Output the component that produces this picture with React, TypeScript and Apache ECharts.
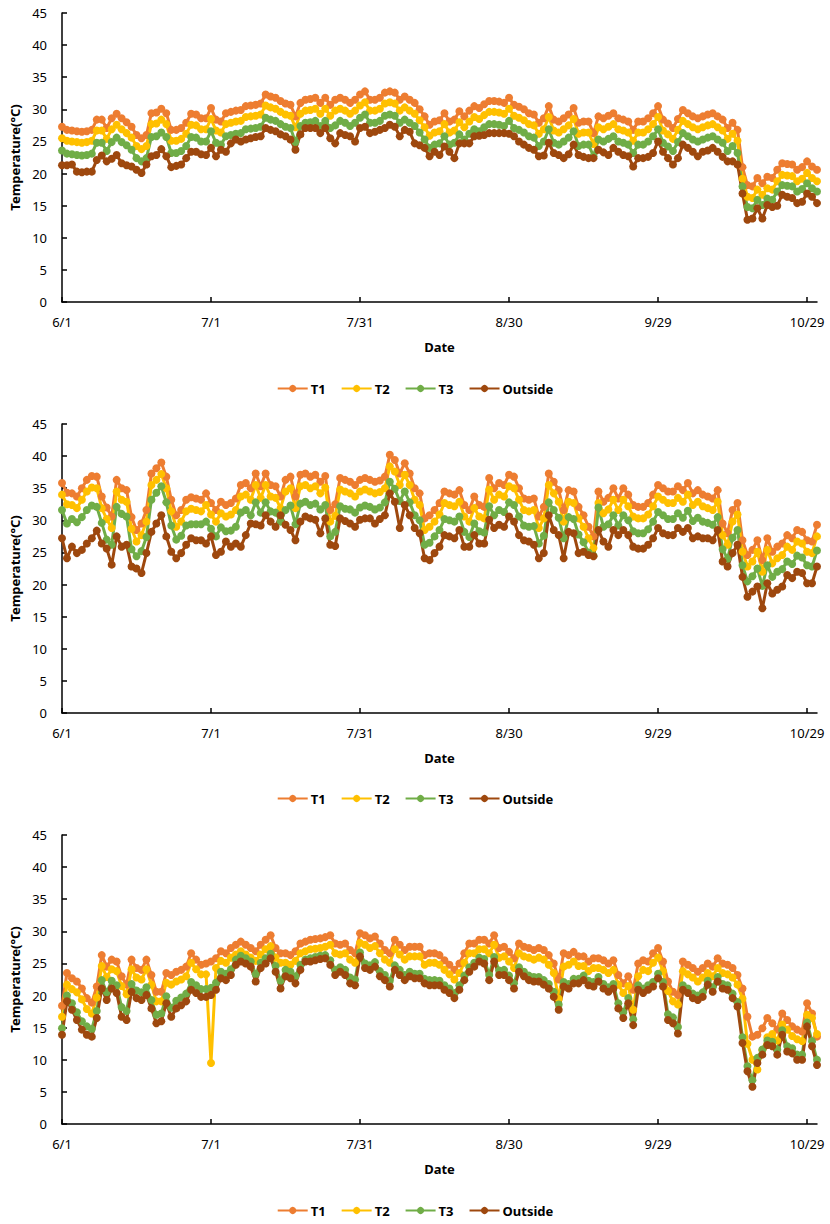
import React, { useEffect, useRef } from 'react';
import * as echarts from 'echarts';

// Categories: daily dates 6/1 .. 10/31
const months: [number, number][] = [[6, 30], [7, 31], [8, 31], [9, 30], [10, 31]];
const dates: string[] = [];
months.forEach(([m, n]) => { for (let d = 1; d <= n; d++) dates.push(`${m}/${d}`); });

const seriesNames = ['T1', 'T2', 'T3', 'Outside'];
const seriesColors = ['#ED7D31', '#FFC000', '#70AD47', '#9E480E'];
const yTicks = { min: 0, max: 45, step: 5 };

// ---------- Panel 1 ----------
const p1T1 = [
  27.3, 26.8, 26.7, 26.6, 26.5, 26.6, 26.8, 28.4, 28.4, 27.1,
  28.6, 29.3, 28.6, 28.0, 27.3, 26.0, 25.5, 26.0, 29.4, 29.5,
  30.1, 29.4, 26.8, 26.8, 27.1, 27.9, 29.3, 29.2, 28.6, 28.6,
  30.2, 28.4, 28.1, 29.4, 29.6, 29.8, 29.9, 30.5, 30.6, 30.7,
  30.9, 32.3, 32.0, 31.8, 31.3, 30.9, 30.7, 28.9, 31.0, 31.5,
  31.6, 31.8, 31.0, 31.8, 30.7, 31.5, 31.8, 31.5, 31.0, 31.5,
  32.3, 32.8, 31.5, 31.5, 31.8, 32.6, 32.8, 32.6, 31.5, 32.0,
  31.5, 31.0, 30.0, 28.9, 27.6, 28.1, 28.3, 29.4, 28.1, 28.4,
  29.7, 28.9, 29.8, 30.5, 30.2, 30.8, 31.3, 31.3, 31.2, 31.0,
  31.8, 30.7, 30.4, 30.0, 29.4, 29.2, 27.9, 28.6, 30.5, 28.4,
  28.1, 28.6, 29.2, 30.2, 27.9, 28.1, 28.1, 26.3, 28.9, 28.6,
  29.0, 29.4, 28.6, 28.4, 28.1, 26.8, 28.1, 28.1, 28.6, 29.4,
  30.5, 28.4, 27.8, 27.1, 28.5, 29.9, 29.4, 28.9, 28.6, 28.9,
  29.2, 29.4, 28.9, 28.4, 27.1, 27.9, 26.8, 21.0, 18.2, 18.0,
  19.3, 18.5, 19.5, 19.3, 20.6, 21.6, 21.5, 21.4, 20.6, 21.0,
  21.9, 21.1, 20.6,
];
const p1T2 = [
  25.5, 25.1, 25.0, 24.9, 24.8, 24.9, 25.1, 26.7, 26.7, 25.4,
  26.9, 27.6, 26.9, 26.3, 25.6, 24.3, 23.8, 24.3, 27.7, 27.8,
  28.4, 27.7, 25.1, 25.1, 25.4, 26.2, 27.6, 27.5, 26.9, 26.9,
  28.5, 26.7, 26.4, 27.7, 27.9, 28.1, 28.2, 28.8, 28.9, 29.0,
  29.2, 30.6, 30.3, 30.1, 29.6, 29.2, 29.0, 27.2, 29.3, 29.8,
  29.9, 30.1, 29.3, 30.1, 29.0, 29.8, 30.1, 29.8, 29.3, 29.8,
  30.6, 31.1, 29.8, 29.8, 30.1, 30.9, 31.1, 30.9, 29.8, 30.3,
  29.8, 29.3, 28.3, 27.2, 25.9, 26.4, 26.6, 27.7, 26.4, 26.7,
  28.0, 27.2, 28.1, 28.8, 28.5, 29.1, 29.6, 29.6, 29.5, 29.3,
  30.1, 29.0, 28.7, 28.3, 27.7, 27.5, 26.2, 26.9, 28.8, 26.7,
  26.4, 26.9, 27.5, 28.5, 26.2, 26.4, 26.4, 24.6, 27.2, 26.9,
  27.3, 27.7, 26.9, 26.7, 26.4, 25.1, 26.4, 26.4, 26.9, 27.7,
  28.8, 26.7, 26.1, 25.4, 26.8, 28.2, 27.7, 27.2, 26.9, 27.2,
  27.5, 27.7, 27.2, 26.7, 25.4, 26.2, 25.1, 19.2, 16.4, 16.2,
  17.5, 16.7, 17.7, 17.5, 18.8, 19.8, 19.7, 19.6, 18.8, 19.2,
  20.1, 19.3, 18.8,
];
const p1T3 = [
  23.6, 23.1, 23.0, 22.9, 22.8, 22.9, 23.1, 24.8, 24.8, 23.5,
  24.9, 25.6, 24.9, 24.4, 23.7, 22.4, 21.9, 22.4, 25.7, 25.8,
  26.4, 25.7, 23.2, 23.2, 23.5, 24.3, 25.7, 25.6, 25.0, 25.0,
  26.6, 24.8, 24.5, 25.8, 26.0, 26.2, 26.3, 26.9, 27.0, 27.1,
  27.3, 28.7, 28.4, 28.2, 27.7, 27.3, 27.1, 24.9, 27.4, 27.9,
  28.0, 28.2, 27.4, 28.2, 27.1, 27.5, 28.2, 27.9, 27.4, 27.9,
  28.7, 29.2, 27.9, 27.9, 28.2, 29.0, 29.2, 29.0, 27.9, 28.4,
  27.9, 27.4, 26.4, 25.3, 24.0, 24.5, 24.7, 25.8, 24.5, 24.8,
  26.1, 25.3, 26.2, 26.9, 26.6, 27.2, 27.7, 27.7, 27.6, 27.4,
  28.2, 27.1, 26.8, 26.4, 25.8, 25.6, 24.3, 25.0, 26.9, 24.8,
  24.5, 25.0, 25.6, 26.6, 24.3, 24.5, 24.5, 22.7, 25.3, 25.0,
  25.4, 25.8, 25.0, 24.8, 24.5, 23.2, 24.5, 24.5, 25.0, 25.8,
  26.9, 24.8, 24.2, 23.5, 24.9, 26.3, 25.8, 25.3, 25.0, 25.3,
  25.6, 25.8, 25.3, 24.8, 23.5, 24.3, 23.2, 18.0, 14.8, 14.6,
  15.9, 15.1, 16.1, 15.9, 17.2, 18.2, 18.1, 18.0, 17.2, 17.6,
  18.5, 17.7, 17.2,
];
const p1Out = [
  21.3, 21.3, 21.4, 20.3, 20.2, 20.3, 20.3, 22.1, 22.8, 21.9,
  22.3, 22.9, 21.6, 21.3, 21.1, 20.6, 20.1, 21.4, 22.7, 22.9,
  23.8, 22.7, 21.0, 21.2, 21.4, 22.4, 23.4, 23.4, 23.0, 22.9,
  24.0, 22.7, 23.7, 23.4, 24.7, 25.3, 25.0, 25.3, 25.5, 25.7,
  25.8, 27.1, 26.8, 26.6, 26.1, 25.8, 25.3, 23.7, 26.1, 27.1,
  27.1, 27.1, 26.3, 27.1, 25.5, 24.7, 26.3, 26.0, 25.8, 25.0,
  27.1, 27.3, 26.3, 26.5, 26.8, 27.1, 27.6, 27.3, 25.8, 26.8,
  26.5, 24.7, 24.4, 24.0, 22.7, 23.4, 22.9, 24.2, 23.4, 22.4,
  24.7, 24.7, 24.7, 25.8, 25.9, 26.0, 26.3, 26.3, 26.3, 26.3,
  26.2, 25.8, 25.0, 24.5, 24.0, 23.7, 22.7, 22.8, 24.8, 23.2,
  22.9, 22.4, 23.0, 24.5, 22.9, 22.6, 22.4, 22.4, 23.7, 23.3,
  22.9, 24.0, 23.4, 22.9, 22.7, 21.1, 22.4, 22.4, 22.6, 23.2,
  25.0, 23.4, 22.4, 21.4, 22.4, 24.5, 24.0, 23.4, 22.7, 23.4,
  23.6, 24.0, 23.4, 22.6, 21.9, 21.9, 21.4, 16.9, 12.8, 13.0,
  14.6, 13.0, 15.1, 14.8, 15.0, 16.7, 16.4, 16.2, 15.4, 15.6,
  16.9, 16.4, 15.4,
];

// ---------- Panel 2 ----------
const p2T1 = [
  35.8, 34.3, 34.2, 33.7, 35.0, 36.3, 36.9, 36.8, 33.7, 32.0,
  30.6, 36.3, 35.0, 34.7, 30.5, 28.5, 29.5, 31.6, 37.3, 38.1,
  39.0, 36.8, 33.2, 30.8, 31.6, 33.2, 33.6, 33.4, 33.2, 34.2,
  32.7, 31.6, 32.9, 32.4, 32.7, 33.4, 35.5, 35.8, 35.0, 37.3,
  35.3, 37.3, 35.5, 35.3, 33.7, 36.3, 36.8, 33.7, 37.1, 37.3,
  36.8, 37.1, 36.0, 36.9, 31.6, 32.5, 36.6, 36.3, 36.0, 35.5,
  36.3, 36.6, 36.3, 36.0, 36.2, 36.8, 40.2, 39.4, 37.3, 38.9,
  37.3, 35.0, 34.2, 30.3, 30.8, 31.6, 32.7, 34.5, 34.2, 34.0,
  34.7, 32.4, 31.6, 33.7, 32.4, 32.1, 36.6, 35.0, 35.8, 35.5,
  37.1, 36.8, 35.0, 33.4, 33.2, 33.4, 30.6, 32.1, 37.3, 36.0,
  34.7, 31.6, 34.7, 34.5, 32.1, 30.8, 29.0, 27.5, 34.5, 32.9,
  33.5, 35.0, 33.4, 35.0, 34.0, 32.4, 32.1, 32.1, 32.7, 34.0,
  35.5, 35.0, 34.5, 34.5, 35.3, 34.7, 35.8, 34.2, 34.7, 34.0,
  33.7, 33.4, 34.7, 29.5, 28.0, 31.6, 32.7, 26.9, 24.6, 25.4,
  26.9, 23.8, 27.2, 25.1, 25.9, 26.4, 27.7, 27.2, 28.5, 28.2,
  26.9, 26.7, 29.3,
];
const p2T2 = [
  34.0, 32.5, 32.4, 31.9, 33.2, 34.5, 35.1, 35.0, 31.9, 30.2,
  28.8, 34.5, 33.2, 32.9, 28.7, 26.7, 27.7, 29.8, 35.5, 36.3,
  37.2, 35.0, 31.4, 29.0, 29.8, 31.4, 31.8, 31.6, 31.4, 32.4,
  30.9, 29.8, 31.1, 30.6, 30.9, 31.6, 33.7, 34.0, 33.2, 35.5,
  33.5, 35.5, 33.7, 33.5, 31.9, 34.5, 35.0, 31.9, 35.3, 35.5,
  35.0, 35.3, 34.2, 35.1, 29.8, 30.7, 34.8, 34.5, 34.2, 33.7,
  34.5, 34.8, 34.5, 34.2, 34.4, 35.0, 38.4, 37.6, 35.5, 37.1,
  35.5, 33.2, 32.4, 28.5, 29.0, 29.8, 30.9, 32.7, 32.4, 32.2,
  32.9, 30.6, 29.8, 31.9, 30.6, 30.3, 34.8, 33.2, 34.0, 33.7,
  35.3, 35.0, 33.2, 31.6, 31.4, 31.6, 28.8, 30.3, 35.5, 34.2,
  32.9, 29.8, 32.9, 32.7, 30.3, 29.0, 27.2, 25.7, 32.7, 31.1,
  31.7, 33.2, 31.6, 33.2, 32.2, 30.6, 30.3, 30.3, 30.9, 32.2,
  33.7, 33.2, 32.7, 32.7, 33.5, 32.9, 34.0, 32.4, 32.9, 32.2,
  31.9, 31.6, 32.9, 27.7, 26.2, 29.8, 30.9, 25.1, 22.8, 23.6,
  25.1, 22.0, 25.4, 23.3, 24.1, 24.6, 25.9, 25.4, 26.7, 26.4,
  25.1, 24.9, 27.5,
];
const p2T3 = [
  31.6, 29.5, 30.2, 29.7, 30.5, 31.6, 32.3, 32.1, 29.6, 27.0,
  26.2, 32.1, 31.0, 30.6, 25.5, 24.4, 25.2, 27.4, 33.2, 34.3,
  35.3, 32.8, 29.2, 27.0, 27.6, 29.2, 29.4, 29.4, 29.4, 29.8,
  28.7, 27.5, 28.9, 28.3, 28.4, 29.0, 31.2, 31.6, 30.8, 32.8,
  31.2, 32.8, 31.4, 31.2, 29.8, 31.6, 32.3, 29.4, 32.6, 32.9,
  32.4, 32.6, 31.7, 32.4, 27.5, 28.2, 32.2, 31.8, 31.7, 31.2,
  32.0, 32.3, 32.1, 31.7, 32.0, 32.8, 36.0, 34.9, 33.0, 34.5,
  32.8, 30.8, 30.0, 26.2, 26.5, 27.5, 28.5, 30.2, 30.0, 29.8,
  30.6, 28.2, 27.4, 29.5, 28.3, 28.1, 32.2, 30.8, 31.6, 31.3,
  32.8, 32.4, 30.6, 29.2, 29.0, 29.1, 26.4, 27.6, 32.8, 31.6,
  30.4, 27.2, 30.5, 30.2, 27.8, 26.6, 25.0, 24.5, 32.0, 29.0,
  29.4, 30.8, 29.2, 30.8, 30.0, 28.3, 28.0, 28.0, 28.6, 29.8,
  31.3, 30.8, 30.2, 30.2, 31.1, 30.4, 31.5, 29.9, 30.4, 29.8,
  29.6, 29.3, 30.5, 25.5, 24.0, 27.3, 28.5, 23.0, 20.5, 21.3,
  22.5, 19.8, 23.0, 21.2, 22.0, 22.4, 23.6, 23.2, 24.5, 24.2,
  23.0, 22.8, 25.3,
];
const p2Out = [
  27.2, 24.1, 25.9, 24.9, 25.4, 26.4, 27.2, 28.4, 26.4, 25.6,
  23.1, 27.5, 25.9, 26.2, 22.8, 22.5, 21.8, 24.9, 28.2, 29.5,
  30.8, 27.5, 25.1, 24.1, 24.9, 26.2, 27.2, 26.9, 26.9, 26.4,
  27.5, 24.6, 25.1, 26.7, 25.9, 26.4, 25.9, 27.7, 29.5, 29.4,
  29.2, 30.8, 29.8, 29.0, 30.8, 29.3, 28.5, 26.9, 29.8, 30.6,
  30.3, 30.1, 28.0, 30.3, 26.2, 26.0, 30.3, 29.9, 29.5, 29.0,
  30.1, 30.3, 30.3, 29.5, 30.2, 30.8, 34.2, 32.9, 28.8, 32.4,
  30.8, 28.8, 28.0, 24.1, 23.8, 24.9, 25.9, 27.7, 27.5, 27.2,
  28.5, 25.9, 25.9, 27.7, 26.4, 26.4, 30.1, 28.8, 29.3, 29.0,
  30.6, 29.8, 27.7, 26.9, 26.7, 26.2, 24.1, 24.9, 30.8, 28.5,
  27.7, 24.1, 28.2, 28.0, 24.9, 25.1, 24.6, 24.4, 28.5, 26.7,
  25.9, 28.5, 27.7, 28.5, 27.7, 25.9, 25.6, 25.6, 26.2, 27.2,
  28.8, 28.0, 27.7, 27.7, 28.8, 28.2, 28.8, 27.2, 27.5, 27.2,
  27.2, 26.9, 28.5, 23.6, 22.8, 24.9, 26.2, 21.2, 18.1, 18.9,
  19.7, 16.3, 20.2, 18.6, 19.2, 19.7, 21.5, 21.0, 22.0, 21.8,
  20.2, 20.2, 22.8,
];

// ---------- Panel 3 ----------
const p3T1 = [
  18.4, 23.5, 22.7, 22.2, 21.1, 19.6, 18.9, 21.4, 26.3, 24.5,
  25.6, 25.3, 23.0, 21.7, 25.6, 24.3, 24.0, 25.6, 23.2, 20.6,
  20.6, 23.5, 23.2, 23.7, 24.0, 24.5, 26.6, 25.6, 24.8, 25.0,
  25.3, 25.8, 26.9, 26.6, 27.4, 27.9, 28.4, 27.9, 27.4, 26.9,
  27.9, 28.7, 29.4, 27.4, 26.6, 26.6, 26.3, 26.9, 28.1, 28.4,
  28.7, 28.8, 28.9, 29.1, 29.4, 28.1, 27.9, 28.1, 27.1, 26.6,
  29.7, 29.4, 28.9, 29.2, 28.1, 27.1, 26.6, 28.7, 27.9, 27.1,
  27.6, 27.6, 27.6, 26.3, 26.6, 26.6, 26.3, 25.5, 24.8, 24.0,
  25.0, 26.6, 28.1, 28.1, 28.7, 28.7, 28.1, 29.4, 27.4, 27.6,
  26.8, 25.8, 28.1, 27.6, 27.4, 27.1, 27.4, 27.1, 26.3, 25.0,
  22.5, 26.6, 26.3, 26.8, 26.1, 26.1, 25.3, 25.8, 25.8, 25.5,
  25.0, 25.5, 23.2, 21.9, 23.0, 20.9, 25.0, 25.5, 25.3, 26.6,
  27.4, 25.3, 22.2, 20.6, 20.1, 25.3, 24.8, 24.3, 23.7, 24.3,
  25.0, 24.5, 25.8, 25.0, 24.8, 24.3, 23.2, 21.1, 16.7, 13.6,
  13.9, 14.9, 16.5, 15.7, 14.7, 17.2, 16.2, 15.2, 14.7, 14.4,
  18.8, 17.2, 13.6,
];
const p3T2 = [
  16.7, 21.7, 21.0, 20.5, 19.4, 17.9, 17.2, 19.7, 24.6, 22.9,
  24.1, 23.8, 21.5, 20.2, 24.1, 22.8, 22.5, 24.1, 21.7, 19.1,
  19.1, 22.0, 21.7, 22.2, 22.5, 23.0, 25.1, 24.1, 23.3, 23.3,
  9.5, 24.3, 25.4, 25.1, 25.9, 26.4, 26.9, 26.4, 25.9, 25.4,
  26.4, 27.2, 27.7, 25.9, 25.1, 25.1, 24.8, 25.4, 26.6, 26.9,
  27.2, 27.3, 27.4, 27.6, 27.9, 26.6, 26.4, 26.6, 25.6, 25.1,
  28.2, 27.9, 27.4, 27.7, 26.6, 25.6, 25.1, 27.2, 26.4, 25.6,
  26.1, 26.1, 26.1, 24.8, 25.1, 25.1, 24.8, 24.0, 23.3, 22.5,
  23.5, 25.1, 26.6, 26.6, 27.2, 27.2, 26.6, 27.9, 25.9, 26.1,
  25.3, 24.3, 26.6, 26.1, 25.9, 25.6, 25.9, 25.6, 24.8, 23.5,
  19.5, 24.5, 24.8, 25.3, 24.6, 24.6, 23.8, 24.3, 24.3, 24.0,
  23.5, 24.0, 21.7, 20.4, 21.5, 17.8, 23.0, 24.0, 23.8, 25.1,
  25.9, 23.8, 20.7, 19.1, 18.6, 23.8, 23.3, 22.8, 22.2, 22.8,
  23.5, 23.0, 24.3, 23.5, 23.3, 22.8, 21.7, 19.5, 12.5, 10.0,
  8.5, 11.5, 13.5, 14.0, 13.0, 15.5, 14.7, 13.7, 13.2, 12.9,
  17.0, 16.5, 14.0,
];
const p3T3 = [
  14.9, 20.0, 18.8, 17.4, 16.0, 15.2, 14.8, 17.6, 22.4, 20.5,
  22.3, 21.6, 18.2, 17.6, 21.8, 20.8, 20.5, 21.3, 19.3, 17.0,
  17.2, 19.9, 18.1, 19.2, 19.7, 20.3, 22.1, 21.6, 21.0, 21.0,
  21.2, 22.0, 23.7, 23.4, 24.1, 25.6, 26.2, 25.8, 25.3, 23.3,
  25.1, 25.8, 26.5, 24.6, 22.3, 24.0, 23.7, 23.0, 24.8, 25.6,
  25.8, 26.0, 26.2, 26.3, 25.5, 24.0, 24.4, 24.0, 22.8, 22.5,
  26.7, 25.0, 24.7, 25.2, 23.8, 23.2, 22.3, 24.7, 24.0, 23.2,
  23.7, 23.4, 23.4, 22.6, 22.4, 22.4, 22.3, 21.6, 21.1, 20.4,
  21.6, 23.1, 24.4, 25.1, 25.9, 25.7, 23.2, 26.0, 23.9, 24.0,
  23.1, 21.9, 24.4, 23.7, 23.1, 22.9, 22.9, 22.4, 21.8, 20.6,
  18.6, 22.1, 21.8, 22.6, 22.6, 23.1, 22.3, 22.1, 22.9, 21.8,
  21.3, 21.8, 18.8, 17.4, 19.6, 16.3, 21.6, 21.1, 21.6, 22.1,
  23.4, 22.1, 17.1, 16.6, 15.1, 21.6, 21.1, 20.3, 20.0, 20.5,
  22.3, 21.3, 22.9, 21.8, 21.6, 20.3, 19.0, 13.5, 9.0, 6.8,
  10.3, 11.6, 13.0, 12.8, 11.6, 14.6, 12.1, 11.8, 10.8, 10.8,
  15.8, 12.9, 10.0,
];
const p3Out = [
  13.9, 19.1, 17.8, 16.2, 14.7, 13.9, 13.6, 16.5, 21.1, 19.3,
  21.1, 20.4, 16.7, 16.2, 20.6, 19.6, 19.3, 20.1, 18.0, 15.7,
  16.0, 18.8, 16.7, 18.0, 18.5, 19.1, 20.9, 20.4, 19.8, 19.8,
  20.1, 20.9, 22.7, 22.4, 23.2, 24.8, 25.3, 25.0, 24.5, 22.2,
  24.3, 25.0, 25.8, 23.7, 21.1, 23.0, 22.7, 21.9, 24.0, 25.3,
  25.3, 25.5, 25.7, 25.8, 24.8, 23.2, 23.7, 23.2, 21.9, 21.6,
  26.1, 24.3, 24.0, 24.5, 23.0, 22.4, 21.4, 24.0, 23.2, 22.4,
  23.0, 22.7, 22.7, 21.9, 21.6, 21.6, 21.6, 20.9, 20.4, 19.6,
  20.9, 22.4, 23.7, 24.5, 25.3, 25.0, 22.4, 25.3, 23.2, 23.2,
  22.4, 21.1, 23.7, 23.0, 22.4, 22.2, 22.2, 21.7, 21.1, 19.8,
  17.8, 21.4, 21.1, 21.9, 21.9, 22.4, 21.6, 21.4, 22.2, 21.1,
  20.6, 21.1, 18.0, 16.5, 18.8, 15.4, 20.9, 20.4, 20.9, 21.4,
  22.7, 21.4, 16.2, 15.7, 14.1, 20.9, 20.4, 19.6, 19.3, 19.8,
  21.7, 20.6, 22.2, 21.1, 20.9, 19.6, 18.3, 12.6, 8.2, 5.8,
  9.5, 10.8, 12.3, 12.1, 10.8, 13.9, 11.3, 11.0, 10.0, 10.0,
  15.2, 12.1, 9.2,
];

const panels = [
  [p1T1, p1T2, p1T3, p1Out],
  [p2T1, p2T2, p2T3, p2Out],
  [p3T1, p3T2, p3T3, p3Out],
];

const gridTops = [13, 424, 835];
const gridHeight = 289;
const legendTops = [377, 787, 1199];

const FONT = "'Noto Sans', 'Open Sans', sans-serif";

export default function App() {
  const ref = useRef<HTMLDivElement>(null);
  useEffect(() => {
    if (!ref.current) return;
    const chart = echarts.init(ref.current, undefined, { renderer: 'svg' });
    const axisText = { color: '#000', fontSize: 13, fontFamily: FONT };
    const titleText = { color: '#000', fontSize: 13, fontWeight: 'bold' as const, fontFamily: FONT };
    const option: any = {
      animation: false,
      backgroundColor: '#fff',
      textStyle: { fontFamily: FONT },
      grid: gridTops.map((t) => ({ left: 62, top: t, width: 755, height: gridHeight, containLabel: false })),
      xAxis: gridTops.map((_, i) => ({
        type: 'category',
        gridIndex: i,
        data: dates,
        boundaryGap: false,
        axisLine: { lineStyle: { color: '#000', width: 1.5 } },
        axisTick: { interval: 29, inside: true, length: 5, lineStyle: { color: '#000', width: 1.5 } },
        axisLabel: { interval: 29, margin: 13, ...axisText },
        splitLine: { show: false },
        name: 'Date',
        nameLocation: 'middle',
        nameGap: 38,
        nameTextStyle: titleText,
      })),
      yAxis: gridTops.map((_, i) => ({
        type: 'value',
        gridIndex: i,
        min: yTicks.min,
        max: yTicks.max,
        interval: yTicks.step,
        axisLine: { show: true, lineStyle: { color: '#000', width: 1.5 } },
        axisTick: { show: true, inside: true, length: 5, lineStyle: { color: '#000', width: 1.5 } },
        axisLabel: { margin: 15, ...axisText },
        splitLine: { show: false },
        name: 'Temperature(°C)',
        nameLocation: 'middle',
        nameGap: 40,
        nameRotate: 90,
        nameTextStyle: titleText,
      })),
      legend: legendTops.map((t) => ({
        top: t,
        left: 'center',
        data: seriesNames,
        itemWidth: 30,
        itemHeight: 9,
        itemGap: 15,
        selectedMode: false,
        textStyle: { ...titleText, padding: [0, 0, 0, -2] },
      })),
      series: panels.flatMap((pd, p) =>
        pd.map((vals, s) => ({
          type: 'line',
          name: seriesNames[s],
          xAxisIndex: p,
          yAxisIndex: p,
          data: vals,
          symbol: 'circle',
          symbolSize: 8,
          showSymbol: true,
          showAllSymbol: true,
          lineStyle: { width: 3, color: seriesColors[s] },
          itemStyle: { color: seriesColors[s] },
          emphasis: { disabled: true },
        }))
      ),
    };
    chart.setOption(option);
    return () => chart.dispose();
  }, []);
  return <div ref={ref} style={{ position: 'absolute', left: 0, top: 0, width: 830, height: 1224 }} />;
}
